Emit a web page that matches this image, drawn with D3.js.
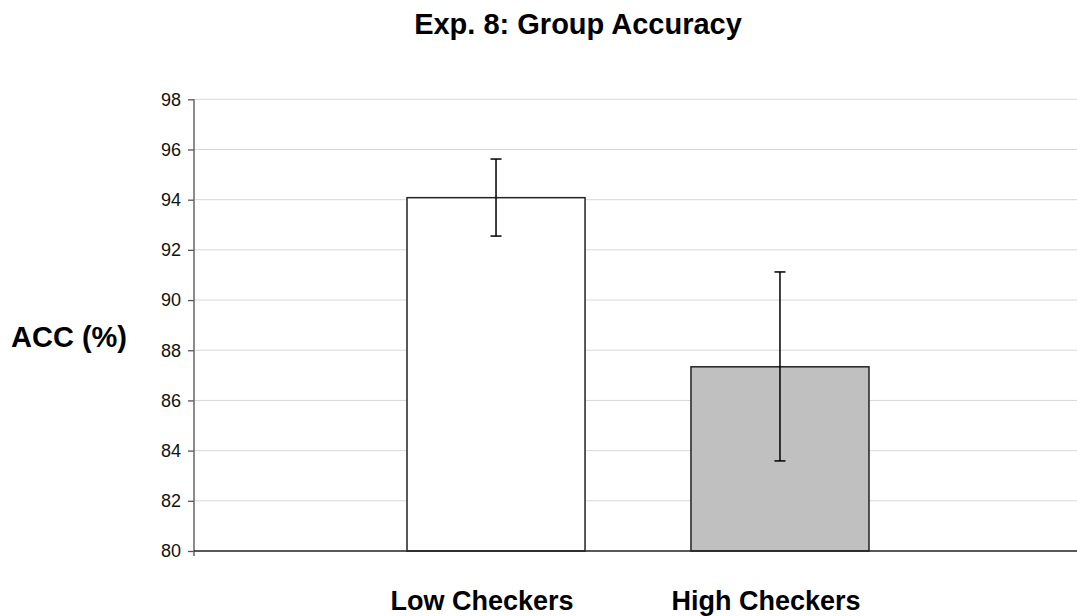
<!DOCTYPE html>
<html>
<head>
<meta charset="utf-8">
<script src="https://cdn.jsdelivr.net/npm/d3@7"></script>
<style>
  body { margin: 0; background: #fff; }
  text { font-family: "Liberation Sans", Arial, sans-serif; }
</style>
</head>
<body>
<script>
var categories = ["Low Checkers", "High Checkers"];
var means = [94.08, 87.34];
var errLow = [92.55, 83.59];
var errHigh = [95.62, 91.12];
var fills = ["#ffffff", "#c0c0c0"];
var yTicks = [80, 82, 84, 86, 88, 90, 92, 94, 96, 98];

var width = 1077;
var height = 616;

var svg = d3.select("body").append("svg")
            .attr("width", width)
            .attr("height", height);

var yScale = d3.scaleLinear()
               .domain([80, 98])
               .range([551, 99.3]);

var xScale = d3.scaleBand()
               .domain(categories)
               .range([407, 869])
               .paddingInner(0.373)
               .paddingOuter(0);

var left = 194, right = 1077;

// gridlines
svg.selectAll("line.grid")
   .data(yTicks.slice(1))
   .enter()
   .append("line")
   .attr("class", "grid")
   .attr("x1", left)
   .attr("x2", right)
   .attr("y1", function(d) { return yScale(d); })
   .attr("y2", function(d) { return yScale(d); })
   .attr("stroke", "#d8d8d8")
   .attr("stroke-width", 1);

// y axis
var yAxis = d3.axisLeft(yScale)
              .tickValues(yTicks)
              .tickSize(6)
              .tickPadding(7);
var yG = svg.append("g")
   .attr("transform", "translate(" + left + ",0)")
   .call(yAxis);
yG.select(".domain").remove();
yG.selectAll(".tick line").attr("stroke", "#555").attr("stroke-width", 1.3);
yG.selectAll(".tick text")
  .attr("font-size", "18px")
  .attr("font-family", "Liberation Sans, Arial, sans-serif")
  .attr("fill", "#111");

svg.append("line")
   .attr("x1", left).attr("x2", left)
   .attr("y1", yScale(98)).attr("y2", yScale(80) + 5)
   .attr("stroke", "#666")
   .attr("stroke-width", 1.5);

// bars
svg.selectAll("rect.bar")
   .data(categories)
   .enter()
   .append("rect")
   .attr("class", "bar")
   .attr("x", function(d) { return xScale(d); })
   .attr("y", function(d, i) { return yScale(means[i]); })
   .attr("width", xScale.bandwidth())
   .attr("height", function(d, i) { return yScale(80) - yScale(means[i]); })
   .attr("fill", function(d, i) { return fills[i]; })
   .attr("stroke", "#222")
   .attr("stroke-width", 1.5);

// x axis line
svg.append("line")
   .attr("x1", left).attr("x2", right)
   .attr("y1", yScale(80)).attr("y2", yScale(80))
   .attr("stroke", "#222")
   .attr("stroke-width", 1.5);

// error bars
var cap = 5.5;
categories.forEach(function(c, i) {
    var cx = xScale(c) + xScale.bandwidth() / 2;
    svg.append("line")
       .attr("x1", cx).attr("x2", cx)
       .attr("y1", yScale(errLow[i])).attr("y2", yScale(errHigh[i]))
       .attr("stroke", "#000").attr("stroke-width", 1.5);
    [errLow[i], errHigh[i]].forEach(function(v) {
        svg.append("line")
           .attr("x1", cx - cap).attr("x2", cx + cap)
           .attr("y1", yScale(v)).attr("y2", yScale(v))
           .attr("stroke", "#000").attr("stroke-width", 1.5);
    });
});

// category labels
svg.selectAll("text.cat")
   .data(categories)
   .enter()
   .append("text")
   .attr("class", "cat")
   .attr("x", function(d) { return xScale(d) + xScale.bandwidth() / 2 - 14; })
   .attr("y", 610)
   .attr("text-anchor", "middle")
   .attr("font-size", "27px")
   .attr("font-weight", "bold")
   .text(function(d) { return d; });

// title
svg.append("text")
   .attr("x", 578)
   .attr("y", 34)
   .attr("text-anchor", "middle")
   .attr("font-size", "29px")
   .attr("font-weight", "bold")
   .text("Exp. 8: Group Accuracy");

// y label
svg.append("text")
   .attr("x", 69)
   .attr("y", 347)
   .attr("text-anchor", "middle")
   .attr("font-size", "29px")
   .attr("font-weight", "bold")
   .text("ACC (%)");
</script>
</body>
</html>
